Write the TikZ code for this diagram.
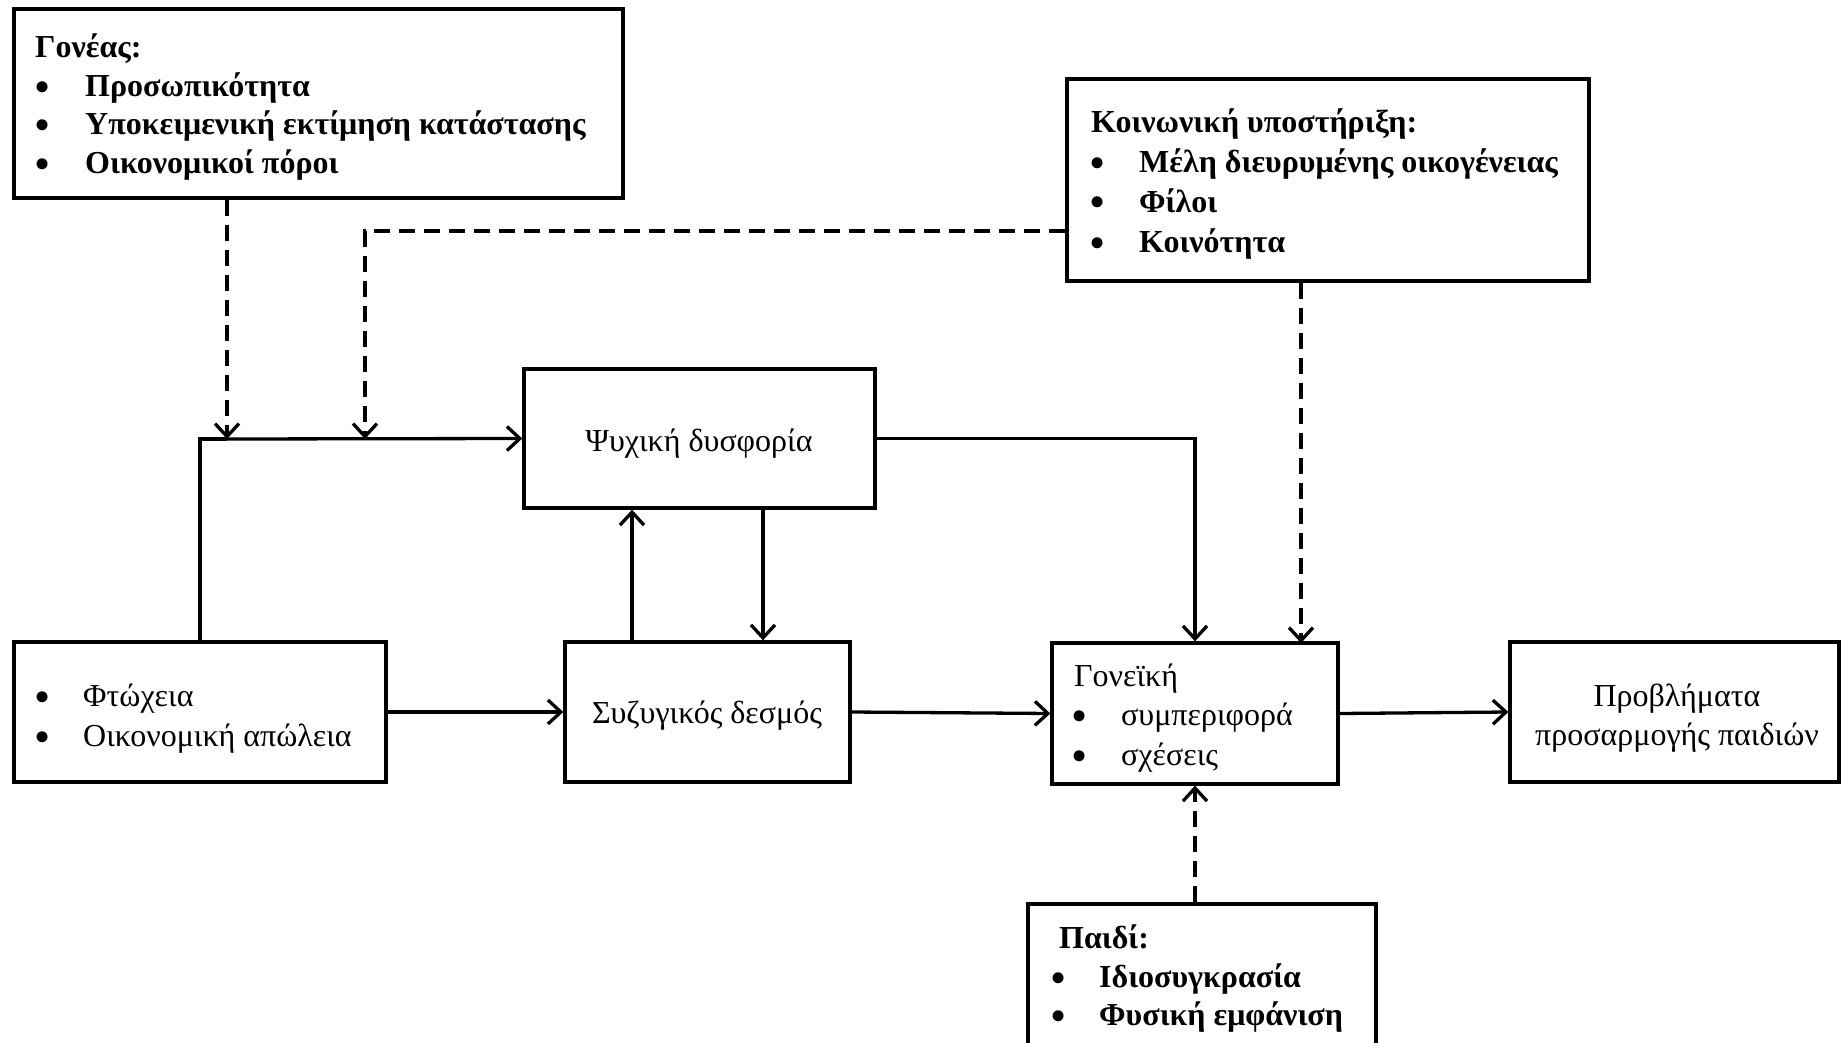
\documentclass[tikz,border=0pt]{standalone}
\usepackage{fontspec}
\setmainfont{Liberation Serif}
\usetikzlibrary{arrows.meta}
\begin{document}
\begin{tikzpicture}[x=1pt,y=-1pt,
  box/.style={draw, line width=3.3pt, inner sep=0pt, rectangle},
  arr/.style={line width=3.3pt, -{Straight Barb[length=13pt,width=24pt]}},
  darr/.style={arr, dash pattern=on 16pt off 9pt},
  txt/.style={anchor=base west, inner sep=0pt, font=\fontsize{32}{38}\selectfont},
  btxt/.style={anchor=base west, inner sep=0pt, font=\fontsize{32}{38}\selectfont\bfseries},
  bul/.style={anchor=base, inner sep=0pt, yshift=-6pt, font=\fontsize{46}{46}\selectfont},
  ctxt/.style={align=center, inner sep=0pt, font=\fontsize{32}{39}\selectfont}
]
\useasboundingbox (0,0) rectangle (1841,1043);

% boxes
\node[box, minimum width=609pt, minimum height=189pt] (goneas) at (318.5,103.5) {};
\node[box, minimum width=522pt, minimum height=202pt] (koin) at (1328,180) {};
\node[box, minimum width=351pt, minimum height=139pt] (psy) at (699.5,438.5) {};
\node[box, minimum width=372pt, minimum height=140pt] (ftw) at (200,712) {};
\node[box, minimum width=285pt, minimum height=140pt] (syz) at (707.5,712) {};
\node[box, minimum width=286pt, minimum height=141pt] (gon) at (1195,713.5) {};
\node[box, minimum width=329pt, minimum height=140pt] (prov) at (1674.5,712) {};
\node[box, minimum width=348pt, minimum height=200pt] (paidi) at (1202,1004) {};

% texts: Goneas
\node[btxt] (g0) at (35,58) {Γονέας:};
\node[bul] (gb1) at (43,97) {\smash{\textbullet}};
\node[btxt] (g1) at (85,97) {Προσωπικότητα};
\node[bul] (gb2) at (43,135) {\smash{\textbullet}};
\node[btxt] (g2) at (85,135) {Υποκειμενική εκτίμηση κατάστασης};
\node[bul] (gb3) at (43,174) {\smash{\textbullet}};
\node[btxt] (g3) at (85,174) {Οικονομικοί πόροι};

% Koinoniki
\node[btxt] (k0) at (1091,133) {Κοινωνική υποστήριξη:};
\node[bul] (kb1) at (1098,173) {\smash{\textbullet}};
\node[btxt] (k1) at (1139,173) {Μέλη διευρυμένης οικογένειας};
\node[bul] (kb2) at (1098,212) {\smash{\textbullet}};
\node[btxt] (k2) at (1139,212) {Φίλοι};
\node[bul] (kb3) at (1098,252) {\smash{\textbullet}};
\node[btxt] (k3) at (1139,252) {Κοινότητα};

% Psy
\node[ctxt] (psyt) at (699,444) {Ψυχική δυσφορία};

% Ftw
\node[bul] (fb1) at (43,706) {\smash{\textbullet}};
\node[txt] (f1) at (83,706) {Φτώχεια};
\node[bul] (fb2) at (43,746) {\smash{\textbullet}};
\node[txt] (f2) at (83,746) {Οικονομική απώλεια};

% Syz
\node[ctxt] (syzt) at (707,716) {Συζυγικός δεσμός};

% Gon
\node[txt] (gn0) at (1074,686) {Γονεϊκή};
\node[bul] (gnb1) at (1080,725) {\smash{\textbullet}};
\node[txt] (gn1) at (1121,725) {συμπεριφορά};
\node[bul] (gnb2) at (1080,765) {\smash{\textbullet}};
\node[txt] (gn2) at (1121,765) {σχέσεις};

% Prov
\node[ctxt] (provt) at (1677,718) {Προβλήματα\\προσαρμογής παιδιών};

% Paidi
\node[btxt] (p0) at (1059,948) {Παιδί:};
\node[bul] (pb1) at (1059,987) {\smash{\textbullet}};
\node[btxt] (p1) at (1099,987) {Ιδιοσυγκρασία};
\node[bul] (pb2) at (1059,1025) {\smash{\textbullet}};
\node[btxt] (p2) at (1099,1025) {Φυσική εμφάνιση};

% junction coordinates
\coordinate (j1) at (227,439);
\coordinate (j2) at (365,439);
\coordinate (j2a) at (365,231);
\coordinate (j3) at (1301,643);
\coordinate (jup) at (632,0);
\coordinate (jdn) at (763,0);

% connectors
\draw[line width=3.3pt] (ftw.north) |- (j1);
\draw[arr] (j1) -- (psy.west);
\draw[darr] (goneas.south -| j1) -- (j1);
\draw[darr] (koin.west |- j2a) -| (j2);
\draw[arr] (psy.east) -| (gon.north);
\draw[darr] (koin.south -| j3) -- (j3);
\draw[arr] (syz.north -| jup) -- (psy.south -| jup);
\draw[arr] (psy.south -| jdn) -- (syz.north -| jdn);
\draw[arr] (ftw.east) -- (syz.west);
\draw[arr] (syz.east) -- (gon.west);
\draw[arr] (gon.east) -- (prov.west);
\draw[darr] (paidi.north -| gon.south) -- (gon.south);
\end{tikzpicture}
\end{document}
